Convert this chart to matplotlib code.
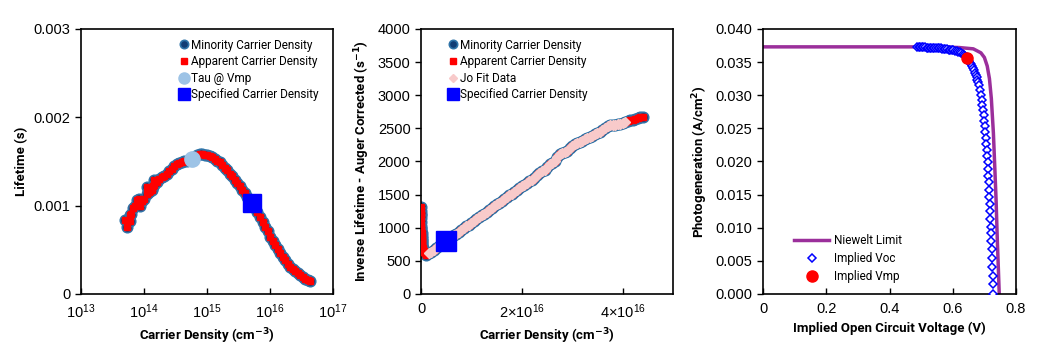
import numpy as np
import matplotlib
matplotlib.use("Agg")
from matplotlib import pyplot as plt
from matplotlib.lines import Line2D

# ---- panel 1: lifetime vs carrier density (log x) ----
# noisy low-injection points
low_n = [4.9e13, 5.4e13, 6.0e13, 5.9e13, 6.2e13, 6.8e13, 7.2e13, 7.8e13, 8.2e13,
         8.7e13, 9.3e13, 1.0e14, 1.10e14, 1.15e14, 1.25e14, 1.35e14, 1.40e14, 1.45e14]
low_tau = [0.00084, 0.00076, 0.00083, 0.00089, 0.00091, 0.00097, 0.00100, 0.00106,
           0.00108, 0.00100, 0.00105, 0.00108, 0.00121, 0.00115, 0.00117, 0.00118,
           0.00122, 0.00129]
main_n = [1.10e14, 1.20e14, 1.32e14, 1.45e14, 1.58e14, 1.74e14, 1.91e14, 2.09e14,
          2.29e14, 2.51e14, 2.75e14, 3.02e14, 3.31e14, 3.63e14, 3.98e14, 4.37e14,
          4.79e14, 5.25e14, 5.75e14, 6.31e14, 6.92e14, 7.59e14, 8.32e14, 9.12e14,
          1.00e15, 1.10e15, 1.20e15, 1.32e15, 1.45e15, 1.58e15, 1.74e15, 1.91e15,
          2.09e15, 2.29e15, 2.51e15, 2.75e15, 3.02e15, 3.31e15, 3.63e15, 3.98e15,
          4.37e15, 4.79e15, 5.25e15, 5.75e15, 6.31e15, 6.92e15, 7.59e15, 8.32e15,
          9.12e15, 1.00e16, 1.10e16, 1.20e16, 1.32e16, 1.45e16, 1.58e16, 1.74e16,
          1.91e16, 2.09e16, 2.29e16, 2.51e16, 2.75e16, 3.02e16, 3.31e16, 3.63e16,
          3.98e16, 4.37e16]
main_tau = [0.00113, 0.00116, 0.00119, 0.00123, 0.00127, 0.00130, 0.00132, 0.00134,
            0.00136, 0.00139, 0.00142, 0.00145, 0.00147, 0.00148, 0.00149, 0.00150,
            0.00151, 0.00152, 0.00153, 0.00155, 0.00157, 0.00158, 0.00158, 0.00157,
            0.00157, 0.00156, 0.00155, 0.00153, 0.00151, 0.00149, 0.00146, 0.00143,
            0.00140, 0.00136, 0.00133, 0.00129, 0.00126, 0.00122, 0.00118, 0.00114,
            0.00110, 0.00106, 0.00102, 0.00097, 0.00093, 0.000875, 0.00082, 0.00076,
            0.00071, 0.00065, 0.00060, 0.00055, 0.000505, 0.00046, 0.00042, 0.00038,
            0.000345, 0.00031, 0.000285, 0.00026, 0.000235, 0.000215, 0.000195,
            0.000175, 0.000158, 0.000142]
tau_n = low_n + main_n
tau_s = low_tau + main_tau
tau_vmp = (5.8e14, 0.00153)
spec_1 = (5.1e15, 0.00103)

# ---- panel 2: inverse lifetime (Auger corrected) vs carrier density ----
spike_n = [5.0e13, 5.2e13, 5.5e13, 6.0e13, 6.3e13, 6.6e13, 7.0e13, 7.5e13, 8.0e13,
           9.0e13, 1.0e14, 1.1e14, 1.2e14, 1.35e14, 1.5e14, 1.75e14, 2.0e14, 2.5e14,
           3.0e14, 4.0e14, 5.0e14, 6.0e14, 7.0e14, 8.0e14, 9.0e14]
spike_v = [1310, 1250, 1190, 1200, 1140, 1090, 1030, 1000, 980, 940, 920, 880, 850,
           820, 800, 775, 750, 725, 700, 670, 655, 640, 625, 615, 605]
lin_n = [1.0e15, 1.5e15, 2.0e15, 2.5e15, 3.0e15, 3.5e15, 4.0e15, 4.5e15, 5.0e15,
         5.5e15, 6.0e15, 6.5e15, 7.0e15, 7.5e15, 8.0e15, 8.5e15, 9.0e15, 9.5e15,
         1.0e16, 1.05e16, 1.1e16, 1.15e16, 1.2e16, 1.25e16, 1.3e16, 1.35e16, 1.4e16,
         1.45e16, 1.5e16, 1.55e16, 1.6e16, 1.65e16, 1.7e16, 1.75e16, 1.8e16, 1.85e16,
         1.9e16, 1.95e16, 2.0e16, 2.05e16, 2.1e16, 2.15e16, 2.2e16, 2.25e16, 2.3e16,
         2.35e16, 2.4e16, 2.45e16, 2.5e16, 2.55e16, 2.6e16, 2.65e16, 2.7e16, 2.75e16,
         2.8e16, 2.85e16, 2.9e16, 2.95e16, 3.0e16, 3.05e16, 3.1e16, 3.15e16, 3.2e16,
         3.25e16, 3.3e16, 3.35e16, 3.4e16, 3.45e16, 3.5e16, 3.55e16, 3.6e16, 3.65e16,
         3.7e16, 3.75e16, 3.8e16, 3.85e16, 3.9e16, 3.95e16, 4.0e16, 4.05e16, 4.1e16,
         4.15e16, 4.2e16, 4.25e16, 4.3e16, 4.35e16, 4.4e16]
lin_v = [592, 612, 640, 668, 697, 722, 748, 778, 804, 830, 860, 885, 912, 942, 966,
         993, 1024, 1048, 1075, 1106, 1130, 1158, 1188, 1212, 1240, 1270, 1294, 1322,
         1352, 1376, 1404, 1434, 1458, 1488, 1515, 1540, 1572, 1596, 1625, 1650, 1672,
         1700, 1725, 1750, 1790, 1830, 1855, 1875, 1920, 1955, 1975, 2010, 2065, 2110,
         2130, 2145, 2165, 2200, 2235, 2260, 2275, 2290, 2310, 2340, 2360, 2375, 2390,
         2410, 2425, 2450, 2480, 2505, 2530, 2545, 2550, 2555, 2560, 2570, 2580, 2590,
         2605, 2620, 2630, 2645, 2655, 2665, 2670]
inv_n = spike_n + lin_n
inv_v = spike_v + lin_v
jo_n = lin_n[1:80]
jo_v = lin_v[1:80]
spec_2 = (5.0e15, 805)

# ---- panel 3: photogeneration vs implied Voc ----
niewelt_v = [0.0, 0.55, 0.62, 0.665, 0.689, 0.700, 0.709, 0.716, 0.722, 0.7285,
             0.733, 0.737, 0.741, 0.744, 0.747]
niewelt_j = [0.0373, 0.0373, 0.0372, 0.0370, 0.0364, 0.0357, 0.0344, 0.0325, 0.0295,
             0.0243, 0.0190, 0.0142, 0.0080, 0.0041, 0.0]
voc_v = [0.487, 0.492, 0.497, 0.502, 0.507, 0.512, 0.517, 0.522, 0.527, 0.532, 0.537,
         0.542, 0.547, 0.552, 0.557, 0.562, 0.567, 0.572, 0.577, 0.582, 0.587, 0.592,
         0.597, 0.602, 0.607, 0.612, 0.617, 0.622, 0.627, 0.632, 0.636, 0.640, 0.644,
         0.648, 0.652, 0.656, 0.659, 0.662, 0.665, 0.668, 0.671, 0.6735, 0.6756,
         0.6777, 0.6798, 0.6819, 0.6851, 0.6882, 0.6914, 0.6935, 0.6956, 0.6977,
         0.6998, 0.7019, 0.7029, 0.7051, 0.7061, 0.7082, 0.7093, 0.7103, 0.7114,
         0.7124, 0.7135, 0.7145, 0.7156, 0.7166, 0.7177, 0.7187, 0.7198, 0.7208,
         0.7219, 0.7229, 0.7240, 0.7250, 0.7261, 0.7271, 0.7271]
voc_j = [0.03723, 0.03723, 0.03722, 0.03722, 0.03721, 0.03721, 0.03720, 0.03719,
         0.03718, 0.03717, 0.03716, 0.03714, 0.03712, 0.03711, 0.03709, 0.03706,
         0.03703, 0.03700, 0.03697, 0.03693, 0.03690, 0.03686, 0.03682, 0.03676,
         0.03670, 0.03662, 0.03654, 0.03645, 0.03634, 0.03620, 0.03606, 0.03590,
         0.03570, 0.03547, 0.03522, 0.03493, 0.03466, 0.03440, 0.03410, 0.03378,
         0.03342, 0.03305, 0.03270, 0.03234, 0.03197, 0.03159, 0.03083, 0.03008,
         0.02932, 0.02851, 0.02771, 0.02695, 0.02610, 0.02529, 0.02438, 0.02353,
         0.02267, 0.02166, 0.02076, 0.01985, 0.01884, 0.01783, 0.01683, 0.01572,
         0.01471, 0.01360, 0.01254, 0.01134, 0.01018, 0.00917, 0.00801, 0.00675,
         0.00539, 0.00413, 0.00277, 0.00146, 0.0]
vmp = (0.6455, 0.03558)

plt.rcParams['font.family'] = ['Liberation Sans', 'DejaVu Sans']
LBL = dict(fontsize=9.5, fontweight='bold', family='Roboto')
LEG = dict(family='Roboto', size=8.5)

blue_face = '#123d74'
blue_edge = '#2f74a8'

fig = plt.figure(figsize=(10.51, 3.59), dpi=100)
ax1 = fig.add_axes([0.0771, 0.1811, 0.2398, 0.7382])
ax2 = fig.add_axes([0.4006, 0.1811, 0.2398, 0.7382])
ax3 = fig.add_axes([0.7260, 0.1811, 0.2407, 0.7382])

for ax in (ax1, ax2, ax3):
    for s in ax.spines.values():
        s.set_linewidth(1.2)
    ax.tick_params(axis='y', direction='out', length=4, width=1, labelsize=10.5)
    ax.tick_params(axis='x', direction='in', length=4, width=1, labelsize=10.5, pad=6)

# panel 1
ax1.plot(tau_n, tau_s, 'o', ms=7.5, mfc=blue_face, mec=blue_edge, mew=1.2, zorder=2)
ax1.plot(tau_n, tau_s, 's', ms=5, color='#ff0000', mec='#ff0000', zorder=3)
ax1.plot([tau_vmp[0]], [tau_vmp[1]], 'o', ms=11, color='#9dc3e6', zorder=4)
ax1.plot([spec_1[0]], [spec_1[1]], 's', ms=13, color='#0000ff', zorder=5)
ax1.set_xscale('log')
ax1.set_xlim(1e13, 1e17)
ax1.set_ylim(0, 0.003)
ax1.set_xticks([1e13, 1e14, 1e15, 1e16, 1e17])
ax1.set_xticklabels([r'$\mathregular{10^{%d}}$' % e for e in (13, 14, 15, 16, 17)])
ax1.minorticks_off()
ax1.set_yticks([0, 0.001, 0.002, 0.003])
ax1.set_yticklabels(['0', '0.001', '0.002', '0.003'])
ax1.set_xlabel(r'Carrier Density (cm$^{\mathbf{-3}}$)', **LBL)
ax1.set_ylabel('Lifetime (s)', **LBL)
leg_handles1 = [
    Line2D([], [], ls='', marker='o', ms=6, mfc=blue_face, mec=blue_edge, mew=1.2),
    Line2D([], [], ls='', marker='s', ms=4, color='#ff0000'),
    Line2D([], [], ls='', marker='o', ms=8, color='#9dc3e6'),
    Line2D([], [], ls='', marker='s', ms=8, color='#0000ff'),
]
ax1.legend(leg_handles1, ['Minority Carrier Density', 'Apparent Carrier Density',
                          'Tau @ Vmp', 'Specified Carrier Density'],
           loc='upper right', bbox_to_anchor=(0.975, 0.995), frameon=False, prop=LEG,
           handlelength=0.6, handletextpad=0.3, labelspacing=0.3, borderaxespad=0.3)

# panel 2
ax2.plot(inv_n, inv_v, 'o', ms=7.5, mfc=blue_face, mec=blue_edge, mew=1.2, zorder=2)
ax2.plot(inv_n, inv_v, 's', ms=5, color='#ff0000', zorder=3)
ax2.plot(jo_n, jo_v, 'D', ms=5.5, color='#f8caca', zorder=4)
ax2.plot([spec_2[0]], [spec_2[1]], 's', ms=14, color='#0000ff', zorder=5)
ax2.set_xlim(0, 5e16)
ax2.set_ylim(0, 4000)
ax2.set_xticks([0, 2e16, 4e16])
ax2.set_xticklabels(['0', r'$\mathregular{2{\times}10^{16}}$', r'$\mathregular{4{\times}10^{16}}$'])
ax2.set_yticks(np.arange(0, 4001, 500))
ax2.set_xlabel(r'Carrier Density (cm$^{\mathbf{-3}}$)', **LBL)
ax2.set_ylabel(r'Inverse Lifetime - Auger Corrected (s$^{\mathbf{-1}}$)', **LBL)
leg_handles2 = [
    Line2D([], [], ls='', marker='o', ms=6, mfc=blue_face, mec=blue_edge, mew=1.2),
    Line2D([], [], ls='', marker='s', ms=4, color='#ff0000'),
    Line2D([], [], ls='', marker='D', ms=4, color='#f8caca'),
    Line2D([], [], ls='', marker='s', ms=8, color='#0000ff'),
]
ax2.legend(leg_handles2, ['Minority Carrier Density', 'Apparent Carrier Density',
                          'Jo Fit Data', 'Specified Carrier Density'],
           loc='upper left', bbox_to_anchor=(0.08, 0.995), frameon=False, prop=LEG,
           handlelength=0.6, handletextpad=0.3, labelspacing=0.3, borderaxespad=0.3)

# panel 3
ax3.plot(niewelt_v, niewelt_j, '-', color='#9b2f9b', lw=2.5, label='Niewelt Limit', zorder=2)
ax3.plot(voc_v, voc_j, 'D', ms=4, mfc='white', mec='#0000ff', mew=1.1,
         label='Implied Voc', zorder=3)
ax3.plot([vmp[0]], [vmp[1]], 'o', ms=8, color='#ff0000', label='Implied Vmp', zorder=4)
ax3.set_xlim(0, 0.8)
ax3.set_ylim(0, 0.040)
ax3.set_xticks([0, 0.2, 0.4, 0.6, 0.8])
ax3.set_xticklabels(['0', '0.2', '0.4', '0.6', '0.8'])
ax3.set_yticks(np.arange(0, 0.0401, 0.005))
ax3.set_yticklabels(['%.3f' % v for v in np.arange(0, 0.0401, 0.005)])
ax3.set_xlabel('Implied Open Circuit Voltage (V)', **LBL)
ax3.set_ylabel(r'Photogeneration (A/cm$^{\mathbf{2}}$)', **LBL)
ax3.legend(loc='lower left', bbox_to_anchor=(0.08, 0.0), frameon=False, prop=LEG,
           handlelength=3.0, handletextpad=0.4, labelspacing=0.42)

fig.savefig('out.png', dpi=100)
